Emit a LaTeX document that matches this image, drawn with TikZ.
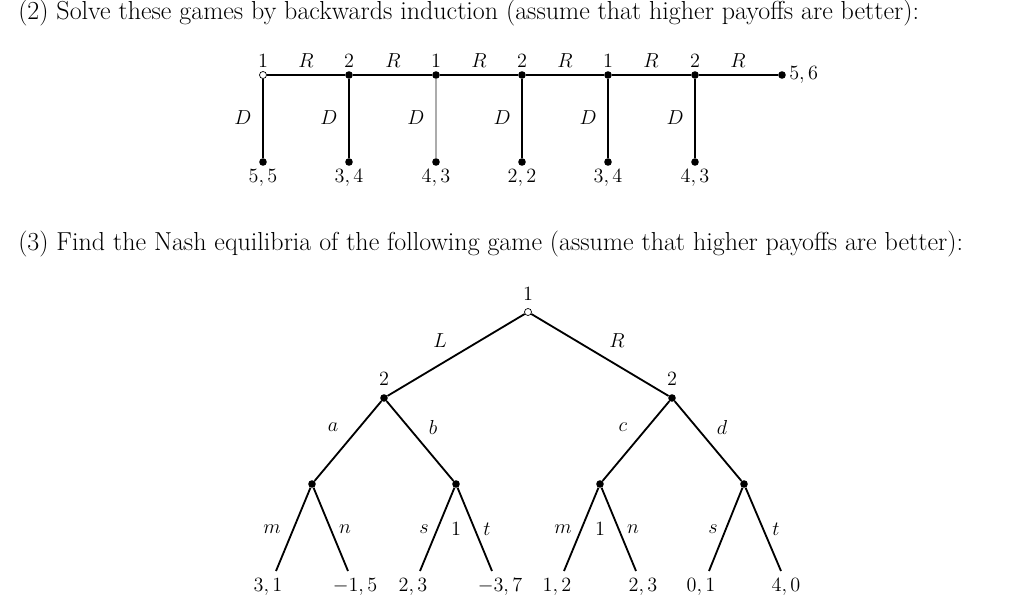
\documentclass[tikz,border=0pt]{standalone}
\usetikzlibrary{positioning}
\begin{document}
\begin{tikzpicture}[x=0.025cm,y=-0.025cm,
  dot/.style={circle,fill=black,inner sep=0pt,minimum size=5.4pt},
  hollow/.style={circle,draw=black,fill=white,inner sep=0pt,minimum size=5pt,line width=0.5pt},
  lbl/.style={font=\fontsize{13.7}{16}\selectfont,inner sep=0pt},
  pay/.style={font=\fontsize{13.7}{16}\selectfont,inner sep=0pt,anchor=base},
  head/.style={font=\fontsize{18.5}{22}\selectfont,anchor=base west,inner sep=0pt},
  move/.style={line width=0.9pt},
  branch/.style={line width=1.3pt}]
\useasboundingbox (0,0) rectangle (1024,610);

% question (2)
\node[head] (q2) at (18,20) {(2) Solve these games by backwards induction (assume that higher payoffs are better):};

% centipede game
\node[hollow] (c1) at (263,75) {};
\node[dot] (c2) at (349,75) {};
\node[dot] (c3) at (436,75) {};
\node[dot] (c4) at (522,75) {};
\node[dot] (c5) at (608,75) {};
\node[dot] (c6) at (695,75) {};
\node[dot] (c7) at (782,75) {};
\node[dot] (d1) at (263,162) {};
\node[dot] (d2) at (349,162) {};
\node[dot] (d3) at (436,162) {};
\node[dot] (d4) at (522,162) {};
\node[dot] (d5) at (608,162) {};
\node[dot] (d6) at (695,162) {};
\draw[move] (c1) -- (c2) -- (c3) -- (c4) -- (c5) -- (c6) -- (c7);
\draw[move] (c1) -- (d1);
\draw[move] (c2) -- (d2);
\draw[move,gray!65] (c3) -- (d3);
\draw[move] (c4) -- (d4);
\draw[move] (c5) -- (d5);
\draw[move] (c6) -- (d6);

\node[lbl] (pl1) at (263,61) {$1$};
\node[lbl] (pl2) at (349,61) {$2$};
\node[lbl] (pl3) at (436,61) {$1$};
\node[lbl] (pl4) at (522,61) {$2$};
\node[lbl] (pl5) at (608,61) {$1$};
\node[lbl] (pl6) at (695,61) {$2$};
\node[lbl] (r1) at (306,61) {$R$};
\node[lbl] (r2) at (393,61) {$R$};
\node[lbl] (r3) at (479,61) {$R$};
\node[lbl] (r4) at (565,61) {$R$};
\node[lbl] (r5) at (651,61) {$R$};
\node[lbl] (r6) at (738,61) {$R$};
\node[lbl] (dd1) at (243,118) {$D$};
\node[lbl] (dd2) at (329,118) {$D$};
\node[lbl] (dd3) at (416,118) {$D$};
\node[lbl] (dd4) at (502,118) {$D$};
\node[lbl] (dd5) at (588,118) {$D$};
\node[lbl] (dd6) at (675,118) {$D$};
\node[pay] (o1) at (263,182) {$5,5$};
\node[pay] (o2) at (349,182) {$3,4$};
\node[pay] (o3) at (436,182) {$4,3$};
\node[pay] (o4) at (522,182) {$2,2$};
\node[pay] (o5) at (608,182) {$3,4$};
\node[pay] (o6) at (695,182) {$4,3$};
\node[lbl,anchor=west] (o7) at (789,75) {$5,6$};

% question (3)
\node[head] (q3) at (18,250) {(3) Find the Nash equilibria of the following game (assume that higher payoffs are better):};

% tree
\node[hollow] (t0) at (528,312) {};
\node[dot] (tl) at (384,398) {};
\node[dot] (tr) at (672,398) {};
\node[dot] (ta) at (312,484) {};
\node[dot] (tb) at (456,484) {};
\node[dot] (tc) at (600,484) {};
\node[dot] (td) at (744,484) {};
\coordinate (e1) at (276,571);
\coordinate (e2) at (348,571);
\coordinate (e3) at (420,571);
\coordinate (e4) at (492,571);
\coordinate (e5) at (564,571);
\coordinate (e6) at (636,571);
\coordinate (e7) at (709,571);
\coordinate (e8) at (781,571);
\draw[branch] (t0) -- (tl);
\draw[branch] (t0) -- (tr);
\draw[branch] (tl) -- (ta);
\draw[branch] (tl) -- (tb);
\draw[branch] (tr) -- (tc);
\draw[branch] (tr) -- (td);
\draw[branch] (ta) -- (e1);
\draw[branch] (ta) -- (e2);
\draw[branch] (tb) -- (e3);
\draw[branch] (tb) -- (e4);
\draw[branch] (tc) -- (e5);
\draw[branch] (tc) -- (e6);
\draw[branch] (td) -- (e7);
\draw[branch] (td) -- (e8);

\node[lbl] (w0) at (528,294) {$1$};
\node[lbl] (wl) at (384,379) {$2$};
\node[lbl] (wr) at (672,379) {$2$};
\node[lbl] (mL) at (440,341) {$L$};
\node[lbl] (mR) at (617,341) {$R$};
\node[lbl] (ma) at (333,427) {$a$};
\node[lbl] (mb) at (433,427) {$b$};
\node[lbl] (mc) at (623,427) {$c$};
\node[lbl] (md) at (722,427) {$d$};
\node[lbl] (mm1) at (272,529) {$m$};
\node[lbl] (mn1) at (345,529) {$n$};
\node[lbl] (ms1) at (424,529) {$s$};
\node[lbl] (w1) at (456,529) {$1$};
\node[lbl] (mt1) at (487,529) {$t$};
\node[lbl] (mm2) at (563,529) {$m$};
\node[lbl] (w2) at (600,529) {$1$};
\node[lbl] (mn2) at (633,529) {$n$};
\node[lbl] (ms2) at (713,529) {$s$};
\node[lbl] (mt2) at (776,529) {$t$};
\node[pay] (u1) at (268,591) {$3,1$};
\node[pay] (u2) at (355,591) {$-1,5$};
\node[pay] (u3) at (413,591) {$2,3$};
\node[pay] (u4) at (500,591) {$-3,7$};
\node[pay] (u5) at (557,591) {$1,2$};
\node[pay] (u6) at (643,591) {$2,3$};
\node[pay] (u7) at (701,591) {$0,1$};
\node[pay] (u8) at (786,591) {$4,0$};
\end{tikzpicture}
\end{document}
